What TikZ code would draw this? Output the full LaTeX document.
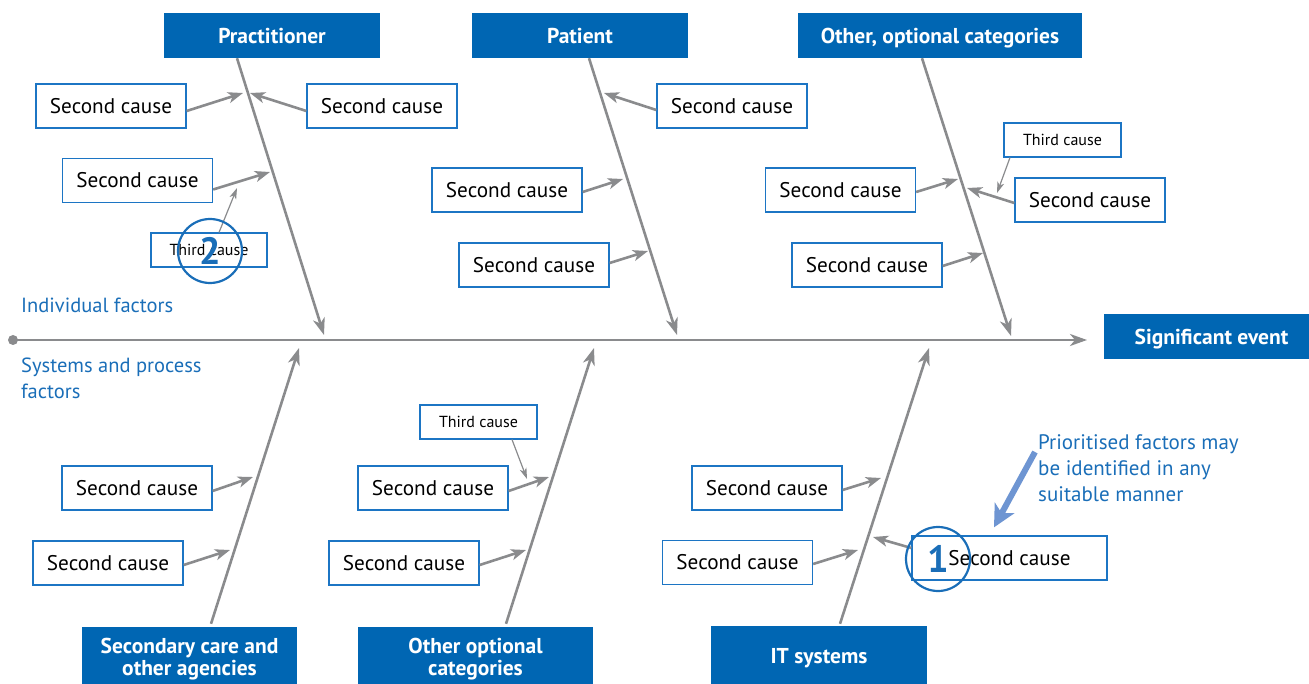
\documentclass[tikz,border=0pt]{standalone}
\usepackage{fontspec}
\setmainfont{PT Sans}
\usetikzlibrary{arrows.meta,calc}
\definecolor{hdr}{HTML}{0066B3}
\definecolor{bord}{HTML}{1C75C4}
\definecolor{bone}{HTML}{8A8B8D}
\definecolor{lbl}{HTML}{1A6EB8}
\definecolor{pri}{HTML}{6E95D2}
\begin{document}
\begin{tikzpicture}[x=1pt,y=-1pt,
  hbox/.style={fill=hdr,text=white,font=\bfseries\fontsize{21.5}{21.5}\selectfont,inner sep=0,align=center},
  hone/.style={hbox,minimum height=45pt,text height=17pt,text depth=0pt},
  cbox/.style={draw=bord,line width=1.3pt,fill=white,inner sep=0,minimum width=150pt,minimum height=44pt,font=\fontsize{21.2}{24}\selectfont},
  tbox/.style={draw=bord,line width=1.1pt,fill=white,inner sep=0,minimum width=117pt,minimum height=34pt,font=\fontsize{16}{18}\selectfont},
  bonel/.style={draw=bone,line width=2.6pt,-{Stealth[length=17pt,width=12pt,inset=5pt]}},
  sarr/.style={draw=bone,line width=2.6pt,-{Stealth[length=15pt,width=11pt,inset=4pt]}},
  tarr/.style={draw=bone,line width=1.2pt,-{Stealth[length=11pt,width=7pt,inset=3pt]}},
  numc/.style={circle,draw=lbl,line width=2.2pt,minimum size=64pt,inner sep=0,text=lbl,font=\bfseries\fontsize{38}{38}\selectfont},
  side/.style={text=lbl,inner sep=0,align=left,font=\fontsize{20.5}{26}\selectfont}
  ]
\useasboundingbox (0,0) rectangle (1309,684);
% headers
\node[hone,minimum width=216pt] (prac) at (272,35.5) {Practitioner};
\node[hone,minimum width=216pt] (pat) at (580,35.5) {Patient};
\node[hone,minimum width=284pt] (oth) at (940,35.5) {Other, optional categories};
\node[hone,minimum width=206pt] (sig) at (1206.5,336.5) {\hspace*{10pt}Significant event};
\node[hbox,minimum width=215pt,minimum height=64pt] (sec) at (189.5,659) {Secondary care and\\other agencies};
\node[hbox,minimum width=235pt,minimum height=64pt] (opt) at (475.5,659) {Other optional\\categories};
\node[hbox,minimum width=216pt,minimum height=64pt] (its) at (819,658) {IT systems};
% spine
\node[circle,fill=bone,inner sep=0,minimum size=10pt] (dot) at (13,340) {};
\coordinate (spineT) at (1087,340);
\draw[bonel] (dot.center) -- (spineT);
% bones
\coordinate (pracT) at (324,335);
\coordinate (patT) at (677,335);
\coordinate (othT) at (1011,336);
\coordinate (secT) at (299,348);
\coordinate (optT) at (594,348);
\coordinate (itsT) at (929,348);
\draw[bonel] ([xshift=-35pt]prac.south) -- (pracT);
\draw[bonel] ([xshift=9pt]pat.south) -- (patT);
\draw[bonel] ([xshift=-18pt]oth.south) -- (othT);
\draw[bonel] ([xshift=21.5pt,yshift=3pt]sec.north) -- (secT);
\draw[bonel] ([xshift=30.5pt,yshift=3pt]opt.north) -- (optT);
\draw[bonel] ([xshift=21pt,yshift=2pt]its.north) -- (itsT);
% practitioner causes
\node[cbox] (c1) at (111,106) {Second cause};
\node[cbox] (c2) at (382,106) {Second cause};
\node[cbox] (c3) at (137.5,180.5) {Second cause};
\node[tbox,minimum width=116pt] (t1) at (209,250) {Third cause};
\coordinate (p1) at (243,93);
\coordinate (p2) at (250,93);
\coordinate (p3) at (270,172);
\coordinate (p4) at (237,188);
\draw[sarr] ([yshift=-5pt]c1.east) -- (p1);
\draw[sarr] ([yshift=-5pt]c2.west) -- (p2);
\draw[sarr] ([yshift=-9pt]c3.east) -- (p3);
\draw[tarr] ([xshift=10pt]t1.north) -- (p4);
\node[numc] (n2) at (210,251) {2};
% patient causes
\node[cbox] (c4) at (732,106) {Second cause};
\node[cbox] (c5) at (507,190) {Second cause};
\node[cbox] (c6) at (534,265) {Second cause};
\coordinate (q1) at (604,93);
\coordinate (q2) at (623,179);
\coordinate (q3) at (648,251);
\draw[sarr] ([yshift=-4pt]c4.west) -- (q1);
\draw[sarr] ([yshift=-2pt]c5.east) -- (q2);
\draw[sarr] ([yshift=2pt]c6.east) -- (q3);
% other causes
\node[tbox] (t2) at (1062.5,140) {Third cause};
\node[cbox] (c7) at (840.5,190) {Second cause};
\node[cbox] (c8) at (1090,200) {Second cause};
\node[cbox] (c9) at (867,265) {Second cause};
\coordinate (r1) at (997,193);
\coordinate (r2) at (958,179);
\coordinate (r3) at (967,188);
\coordinate (r4) at (983,253);
\draw[tarr] ([xshift=-52.5pt]t2.south) -- (r1);
\draw[sarr] ([yshift=-2pt]c7.east) -- (r2);
\draw[sarr] ([yshift=-3pt]c8.west) -- (r3);
\draw[sarr] ([yshift=-1pt]c9.east) -- (r4);
% secondary care causes
\node[cbox] (c10) at (137,488) {Second cause};
\node[cbox] (c11) at (108,563) {Second cause};
\coordinate (s1) at (253,477);
\coordinate (s2) at (230,550);
\draw[sarr] ([yshift=-3pt]c10.east) -- (s1);
\draw[sarr] ([yshift=-2pt]c11.east) -- (s2);
% other optional causes
\node[tbox] (t3) at (478.5,422) {Third cause};
\node[cbox] (c12) at (433,488) {Second cause};
\node[cbox] (c13) at (404,563) {Second cause};
\coordinate (o1) at (527,479);
\coordinate (o2) at (549,477);
\coordinate (o3) at (526,550);
\draw[tarr] ([xshift=33.5pt]t3.south) -- (o1);
\draw[sarr] ([yshift=-3pt]c12.east) -- (o2);
\draw[sarr] ([yshift=-2pt]c13.east) -- (o3);
% IT causes
\node[cbox] (c14) at (767,488) {Second cause};
\node[cbox] (c15) at (737.5,562.5) {Second cause};
\node[cbox,minimum width=195pt] (c16) at (1009.5,558) {Second cause};
\coordinate (i1) at (881,478);
\coordinate (i2) at (858,550);
\coordinate (i3) at (873,537);
\draw[sarr] ([yshift=-2pt]c14.east) -- (i1);
\draw[sarr] ([yshift=-1.5pt]c15.east) -- (i2);
\draw[sarr] ([yshift=10pt]c16.west) -- (i3);
\node[numc] (n1) at (938,559) {1};
% side labels
\node[side,anchor=base west] (ind) at (21,313) {Individual factors};
\node[side,anchor=north west] (sys) at (21,358) {Systems and process\\factors};
\node[side,anchor=north west,font=\fontsize{21}{26}\selectfont] (prio) at (1038,434) {Prioritised factors may\\be identified in any\\suitable manner};
\draw[pri,line width=6pt,-{Stealth[length=22pt,width=22pt,inset=6pt]}] ([xshift=-3pt,yshift=-18pt]prio.north west) -- ([xshift=-15.5pt,yshift=8pt]c16.north);
\end{tikzpicture}
\end{document}
